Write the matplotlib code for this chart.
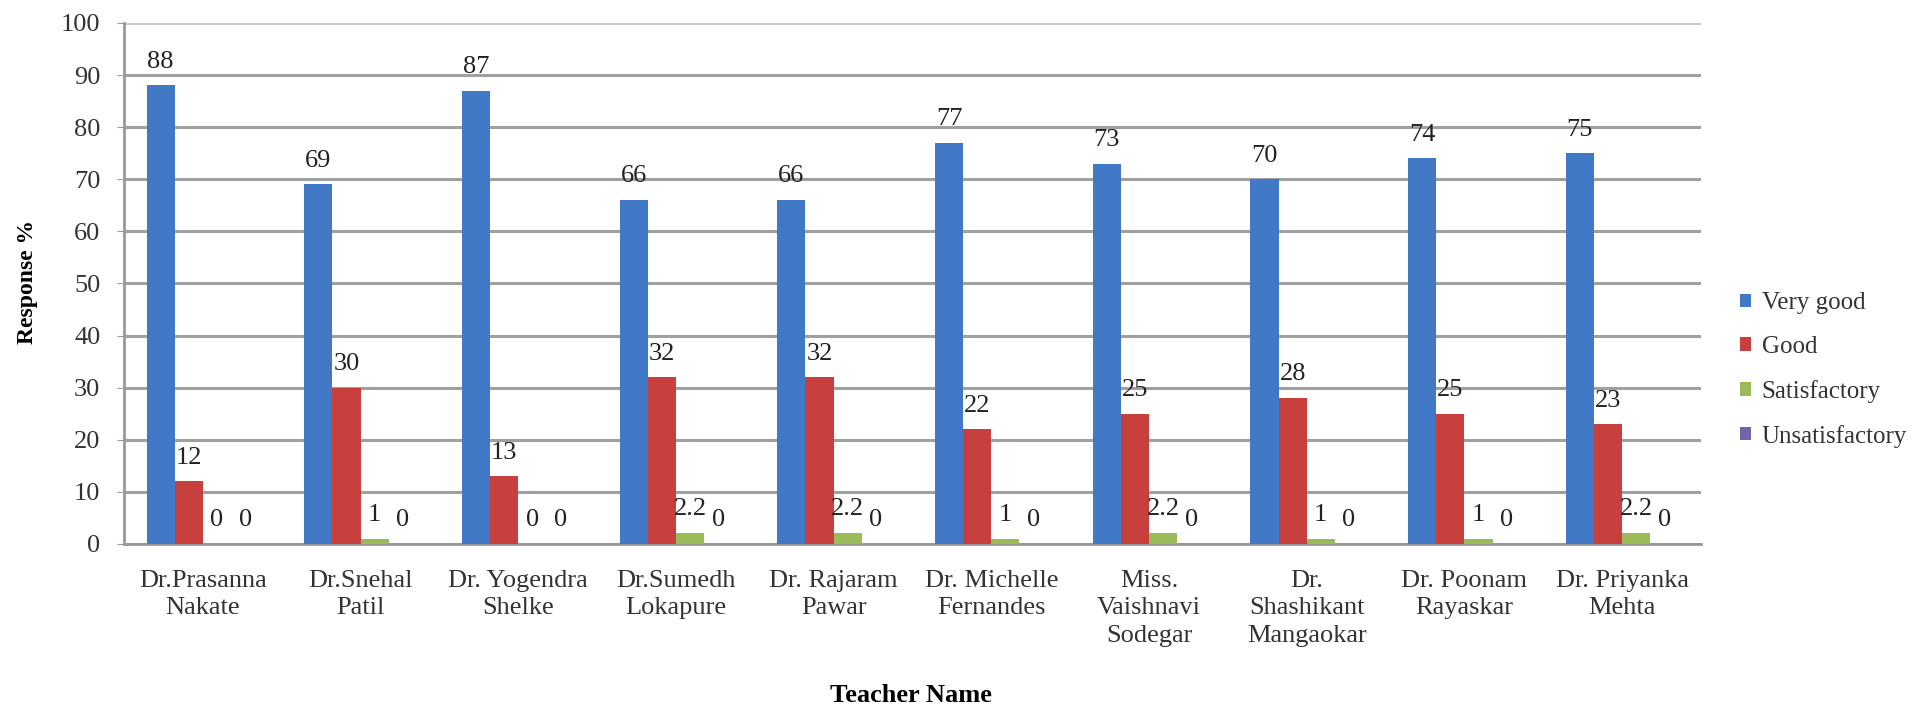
import matplotlib
matplotlib.use('Agg')
import matplotlib.pyplot as plt
import numpy as np

teachers = ['Dr.Prasanna\nNakate', 'Dr.Snehal\nPatil', 'Dr. Yogendra\nShelke',
            'Dr.Sumedh\nLokapure', 'Dr. Rajaram\nPawar', 'Dr. Michelle\nFernandes',
            'Miss.\nVaishnavi\nSodegar', 'Dr.\nShashikant\nMangaokar',
            'Dr. Poonam\nRayaskar', 'Dr. Priyanka\nMehta']
series_names = ['Very good', 'Good', 'Satisfactory', 'Unsatisfactory']
very_good = [88, 69, 87, 66, 66, 77, 73, 70, 74, 75]
good = [12, 30, 13, 32, 32, 22, 25, 28, 25, 23]
satisfactory = [0, 1, 0, 2.2, 2.2, 1, 2.2, 1, 1, 2.2]
unsatisfactory = [0, 0, 0, 0, 0, 0, 0, 0, 0, 0]
yticks = list(range(0, 101, 10))

colors = ['#4179C6', '#C8403D', '#9BBB59', '#7363A8']

plt.rcParams['font.family'] = ['Liberation Serif', 'DejaVu Serif']

fig = plt.figure(figsize=(19.32, 7.07), dpi=100)
ax = fig.add_axes([0.0642, 0.2306, 0.8162, 0.737])

x = np.arange(len(teachers))
w = 1 / 5.6
data = [very_good, good, satisfactory, unsatisfactory]
for k, (vals, name, c) in enumerate(zip(data, series_names, colors)):
    pos = x + (k - 1.5) * w
    ax.bar(pos, vals, width=w, color=c, label=name, zorder=3)
    for px, v in zip(pos, vals):
        ax.annotate('%g' % v, (px, v), xytext=(0, 17), textcoords='offset points',
                    ha='center', va='center', fontsize=19, color='#222222')

ax.set_xlim(-0.5, len(teachers) - 0.5)
ax.set_ylim(0, 100)
ax.set_yticks(yticks)
ax.set_yticklabels([str(t) for t in yticks], fontsize=19, color='#333333')
ax.set_xticks(x)
ax.set_xticklabels(teachers, fontsize=19, color='#333333', linespacing=1.3)
ax.tick_params(axis='x', length=0, pad=19)
ax.tick_params(axis='y', length=5, color='#999999', pad=12)

for t in yticks:
    ax.axhline(t, color='#c8c8c8' if t == 100 else '#a0a0a0', lw=2.2, zorder=1)
for s in ['top', 'right']:
    ax.spines[s].set_visible(False)
ax.spines['left'].set_color('#999999')
ax.spines['left'].set_linewidth(2)
ax.spines['bottom'].set_color('#999999')
ax.spines['bottom'].set_linewidth(2)

fig.text(27 / 1932, 1 - 282 / 707, 'Response %', rotation=90, fontsize=17,
         fontweight='bold', ha='center', va='center')
fig.text(911 / 1932, 1 - 696 / 707, 'Teacher Name', fontsize=19,
         fontweight='bold', ha='center', va='center')

leg = fig.legend(loc='center left', bbox_to_anchor=(0.9005, 0.4767), frameon=False,
                 fontsize=18, handlelength=0.45, handleheight=0.45, handletextpad=0.43,
                 labelspacing=0.87, borderpad=0, borderaxespad=0)
for t in leg.get_texts():
    t.set_color('#333333')

fig.savefig('out.png', dpi=100, facecolor='white')
